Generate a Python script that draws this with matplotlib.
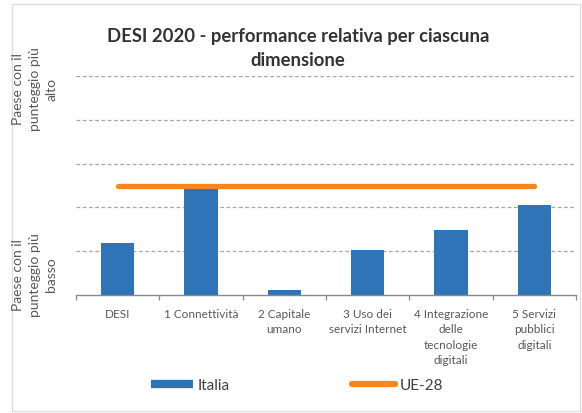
import matplotlib.pyplot as plt
from matplotlib.lines import Line2D
from matplotlib.patches import Rectangle
import numpy as np

plt.rcParams['font.family'] = ['Lato', 'DejaVu Sans']

# Data
dimensioni = ['DESI', '1 Connettività', '2 Capitale\numano', '3 Uso dei\nservizi Internet',
              '4 Integrazione\ndelle\ntecnologie\ndigitali', '5 Servizi\npubblici\ndigitali']
italia = [1.18, 2.45, 0.12, 1.02, 1.48, 2.05]
ue28 = [2.5, 2.5, 2.5, 2.5, 2.5, 2.5]

blu = '#2E74B7'
arancio = '#F7861C'
grigio = '#595959'

fig = plt.figure(figsize=(5.82, 4.14), dpi=100)
ax = fig.add_axes([0.1306, 0.285, 0.859, 0.529])

x = np.arange(len(dimensioni))
ax.bar(x, italia, 0.4, color=blu, zorder=2)
ax.plot(x, ue28, color=arancio, lw=3.8, solid_capstyle='round', zorder=3)

ax.set_xlim(-0.5, len(dimensioni) - 0.5)
ax.set_ylim(0, 5)

# dashed horizontal gridlines
ax.set_yticks([1, 2, 3, 4, 5])
ax.yaxis.grid(True, linestyle=(0, (3, 2)), color='#a6a6a6', lw=0.9, zorder=0)
ax.tick_params(axis='y', left=False, labelleft=False)

# category labels under the bars, tick marks between categories
ax.set_xticks(x)
ax.set_xticklabels(dimensioni, fontsize=8.5, color=grigio, linespacing=1.5, va='top')
ax.tick_params(axis='x', which='major', length=0, pad=9)
ax.set_xticks(np.arange(-0.5, len(dimensioni)), minor=True)
ax.tick_params(axis='x', which='minor', length=3.5, color='#898989', width=0.9)

for s in ['top', 'right', 'left']:
    ax.spines[s].set_visible(False)
ax.spines['bottom'].set_color('#898989')
ax.spines['bottom'].set_linewidth(1.0)

fig.text(298 / 582, 1 - 48.5 / 414, 'DESI 2020 - performance relativa per ciascuna\ndimensione',
         ha='center', va='center', fontsize=13.3, fontweight='bold', color='#333333',
         linespacing=1.55)

fig.text(35 / 582, 1 - 89 / 414, 'Paese con il\npunteggio più\nalto', rotation=90,
         ha='center', va='center', fontsize=10, color=grigio, linespacing=1.45)
fig.text(35 / 582, 1 - 275 / 414, 'Paese con il\npunteggio più\nbasso', rotation=90,
         ha='center', va='center', fontsize=10, color=grigio, linespacing=1.45)

handles = [Line2D([], [], color=blu, lw=6, solid_capstyle='butt'),
           Line2D([], [], color=arancio, lw=4.5, solid_capstyle='round')]
fig.legend(handles, ['Italia', 'UE-28'], loc='center', bbox_to_anchor=(297 / 582, 1 - 386 / 414),
           ncol=2, frameon=False, fontsize=11, handlelength=2.8, handletextpad=0.3,
           columnspacing=8.0, labelcolor='#404040')

# light frame round the whole chart
fig.patches.append(Rectangle((12 / 582, 1 - 412 / 414), 568 / 582, 407 / 414,
                             transform=fig.transFigure, fill=False, ec='#dedede', lw=1))

plt.savefig('out.png', dpi=100)
